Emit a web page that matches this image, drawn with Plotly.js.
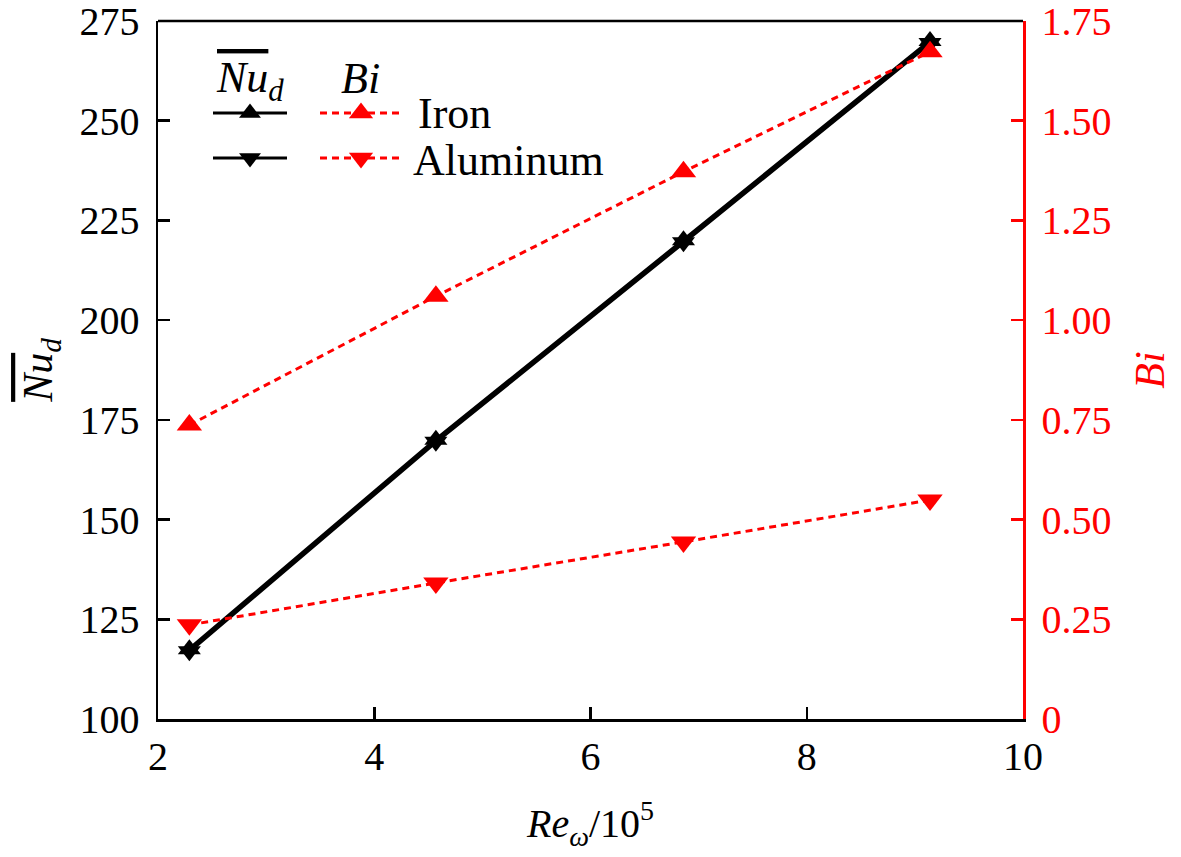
<!DOCTYPE html>
<html>
<head>
<meta charset="utf-8">
<script src="https://cdn.plot.ly/plotly-3.0.1.min.js"></script>
<style>
  html, body { margin: 0; padding: 0; background: #fff; }
  #chart { width: 1181px; height: 857px; }
</style>
</head>
<body>
<div id="chart"></div>
<script>
// ── Data ──────────────────────────────────────────────────────────────────
const reX      = [2.29, 4.57, 6.86, 9.14];          // Re_ω / 10^5
const nuIron   = [117.5, 170.0, 220.0, 270.0];      // mean Nu_d, iron
const nuAlum   = [117.0, 169.5, 219.5, 269.5];      // mean Nu_d, aluminum
const biIron   = [0.737, 1.060, 1.372, 1.673];      // Bi, iron
const biAlum   = [0.236, 0.341, 0.444, 0.549];      // Bi, aluminum
const xTicks   = [2, 4, 6, 8, 10];
const nuTicks  = [100, 125, 150, 175, 200, 225, 250, 275];
const biTicks  = [0, 0.25, 0.5, 0.75, 1.0, 1.25, 1.5, 1.75];
const biLabels = ['0', '0.25', '0.50', '0.75', '1.00', '1.25', '1.50', '1.75'];

const FONT = 'Liberation Serif';
const RED = '#ff0000';
const DASH = '7px,5px';

// ── Data traces ───────────────────────────────────────────────────────────
const nuTrace = (y, sym) => ({
    type: 'scatter', mode: 'lines+markers', x: reX, y: y,
    line: { color: '#000', width: 4 },
    marker: { symbol: sym, size: 20, color: '#000' },
    hoverinfo: 'none', showlegend: false, cliponaxis: false
});
const biTrace = (y, sym) => ({
    type: 'scatter', mode: 'lines+markers', x: reX, y: y, yaxis: 'y2',
    line: { color: RED, width: 3, dash: DASH },
    marker: { symbol: sym, size: 22, color: RED },
    hoverinfo: 'none', showlegend: false, cliponaxis: false
});

// ── Hand-built legend (pixel frame via hidden x3/y3 axes) ─────────────────
const legMark = (x, y, sym, col, size) => ({
    type: 'scatter', mode: 'markers', x: [x], y: [y], xaxis: 'x3', yaxis: 'y3',
    marker: { symbol: sym, size: size, color: col },
    hoverinfo: 'none', showlegend: false
});
const legLine = (x0, x1, y, col, dash, w) => ({
    type: 'line', xref: 'x3', yref: 'y3', x0: x0, x1: x1, y0: y, y1: y,
    line: { color: col, width: w, dash: dash }
});
const legText = (x, y, txt, anchor) => ({
    xref: 'x3', yref: 'y3', x: x, y: y, text: txt, showarrow: false,
    xanchor: anchor, yanchor: 'middle', font: { family: FONT, size: 44, color: '#000' }
});

const traces = [
    nuTrace(nuIron, 'triangle-up'),
    nuTrace(nuAlum, 'triangle-down'),
    biTrace(biIron, 'triangle-up'),
    biTrace(biAlum, 'triangle-down'),
    legMark(250, 113, 'triangle-up', '#000', 19),
    legMark(250, 158, 'triangle-down', '#000', 19),
    legMark(361, 113, 'triangle-up', RED, 21),
    legMark(361, 158, 'triangle-down', RED, 21)
];

const axisCommon = {
    showgrid: false, zeroline: false, showline: true, linewidth: 2.5,
    ticks: 'inside', ticklen: 12, tickwidth: 2.5, ticklabeloverflow: 'allow',
    tickfont: { family: FONT, size: 40 }
};

const layout = {
    width: 1181, height: 857,
    margin: { l: 158, r: 158, t: 21, b: 138 },
    paper_bgcolor: '#fff', plot_bgcolor: '#fff',
    font: { family: FONT, color: '#000' },
    xaxis: Object.assign({}, axisCommon, {
        range: [2, 10], tickvals: xTicks, linecolor: '#000', tickcolor: '#000',
        title: { text: '<i>Re</i><sub><i>ω</i></sub>/10<sup>5</sup>', font: { family: FONT, size: 40 }, standoff: 32 }
    }),
    yaxis: Object.assign({}, axisCommon, {
        range: [100, 275], tickvals: nuTicks, linecolor: '#000', tickcolor: '#000',
        ticklabelstandoff: 8,
        title: { text: '<i><span style="text-decoration:overline">Nu</span><sub>d</sub></i>', font: { family: FONT, size: 42 }, standoff: 14 }
    }),
    yaxis2: Object.assign({}, axisCommon, {
        overlaying: 'y', side: 'right', range: [0, 1.75],
        tickvals: biTicks, ticktext: biLabels,
        linecolor: RED, tickcolor: RED, ticklabelstandoff: 8,
        tickfont: { family: FONT, size: 40, color: RED },
        title: { text: '<i>Bi</i>', font: { family: FONT, size: 42, color: RED }, standoff: 24 }
    }),
    xaxis3: { overlaying: 'x', anchor: 'y3', range: [158, 1023], visible: false, fixedrange: true },
    yaxis3: { overlaying: 'y', anchor: 'x3', range: [719, 21], visible: false, fixedrange: true },
    shapes: [
        // top frame line
        { type: 'line', xref: 'paper', yref: 'paper', x0: 0, x1: 1, y0: 1, y1: 1, line: { color: '#000', width: 2.5 } },
        legLine(213, 287, 113, '#000', 'solid', 3),
        legLine(213, 287, 158, '#000', 'solid', 3),
        legLine(320, 400, 113, RED, DASH, 3),
        legLine(320, 400, 158, RED, DASH, 3)
    ],
    annotations: [
        legText(250, 80, '<i><span style="text-decoration:overline">Nu</span><sub>d</sub></i>', 'center'),
        legText(360, 78, '<i>Bi</i>', 'center'),
        legText(416, 113, 'Iron', 'left'),
        legText(411, 160, 'Aluminum', 'left')
    ],
    showlegend: false
};

Plotly.newPlot('chart', traces, layout, { displayModeBar: false, staticPlot: true });
</script>
</body>
</html>
